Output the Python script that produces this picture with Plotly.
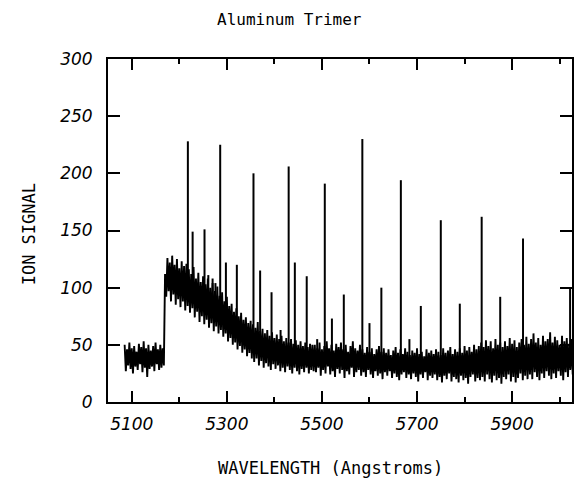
import numpy as np
import plotly.graph_objects as go

# wavelength grid of the sampled noise band (Angstroms)
lam_start, lam_end, lam_step = 5085, 6025, 5

# upper / lower edges of the noisy signal band
upper_a = [50, 46, 52, 47, 49, 44, 51, 48, 53, 47, 50, 45, 49, 52, 46, 50, 47]
lower_a = [27, 32, 29, 25, 31, 28, 33, 26, 30, 22, 29, 31, 27, 33, 28, 30, 32]
upper_b = [112, 126, 122, 128, 120, 125, 117, 123, 119, 121]
lower_b = [92, 97, 88, 94, 85, 90, 83, 88, 80, 84]
upper_c = [116, 112, 118, 108, 113, 105, 110, 103, 108, 100, 104, 97, 101, 93,
           96, 88, 92, 84, 86, 79, 82, 75, 78, 72, 74, 69, 71]
lower_c = [78, 82, 74, 79, 70, 75, 68, 72, 65, 69, 62, 66, 60, 63, 57, 60, 53,
           56, 50, 52, 46, 49, 43, 46, 40, 43, 38]
upper_d = [68, 65, 70, 62, 64, 60, 63, 58, 61, 56, 59, 55, 58, 53, 56, 52, 55,
           51, 54, 50, 53, 49, 52, 48, 51, 50]
lower_d = [35, 38, 32, 36, 30, 34, 31, 28, 33, 29, 32, 27, 30, 26, 31, 28, 25,
           30, 27, 24, 29, 26, 30, 25, 28, 27]
upper_e = [50, 47, 52, 46, 49, 53, 47, 50, 45, 51,
           48, 52, 46, 50, 44, 49, 53, 47, 45, 50,
           46, 43, 48, 44, 47, 42, 46, 49, 44, 47,
           43, 46, 41, 45, 48, 43, 46, 42, 47, 44,
           41, 45, 43, 47, 42, 44, 40, 46, 43, 45,
           42, 46, 44, 41, 47, 43, 45, 48, 42, 46,
           44, 47, 43, 49, 45, 48, 44, 50, 46, 49,
           52, 48, 54, 49, 53, 47, 55, 50, 52, 48,
           53, 49, 56, 51, 54, 48, 52, 55, 50, 57,
           51, 55, 60, 52, 56, 50, 58, 53, 55, 61,
           52, 57, 54, 50, 58, 53, 56, 51, 55]
lower_e = [26, 30, 23, 28, 25, 31, 24, 27, 22, 29,
           25, 28, 21, 27, 24, 30, 22, 26, 28, 23,
           26, 22, 28, 24, 21, 27, 23, 25, 20, 26,
           23, 27, 21, 25, 22, 19, 24, 26, 21, 24,
           20, 25, 22, 18, 24, 21, 26, 19, 23, 21,
           24, 19, 22, 17, 23, 20, 25, 18, 22, 20,
           17, 23, 19, 21, 16, 22, 24, 18, 21, 19,
           22, 18, 24, 20, 17, 23, 19, 21, 16, 22,
           20, 24, 18, 22, 17, 21, 25, 19, 23, 20,
           24, 20, 26, 22, 19, 25, 21, 27, 23, 20,
           25, 21, 27, 23, 19, 26, 22, 28, 24]

# sharp resonance lines: position, top value, local baseline
peak_wl = [5218, 5228, 5253, 5261, 5270, 5276, 5286, 5298, 5321, 5356, 5370,
           5394, 5413, 5430, 5443, 5468, 5490, 5506, 5521, 5546, 5585, 5600,
           5625, 5666, 5684, 5708, 5750, 5790, 5836, 5875, 5923, 6022]
peak_h = [228, 149, 151, 111, 108, 104, 225, 122, 120, 200, 115,
          96, 63, 206, 122, 110, 55, 191, 73, 94, 230, 69,
          100, 194, 55, 84, 159, 86, 162, 92, 143, 100]
peak_base = [98, 95, 90, 86, 84, 82, 78, 72, 64, 52, 48,
             45, 44, 43, 42, 40, 38, 38, 38, 37, 36, 35,
             35, 34, 33, 33, 33, 33, 35, 36, 37, 38]

x_ticks = [5100, 5300, 5500, 5700, 5900]
x_minor = [5200, 5400, 5600, 5800, 6000]
y_ticks = [0, 50, 100, 150, 200, 250, 300]

upper = upper_a + upper_b + upper_c + upper_d + upper_e
lower = lower_a + lower_b + lower_c + lower_d + lower_e
lam = np.arange(lam_start, lam_end + 1, lam_step)
assert len(lam) == len(upper) == len(lower)

xs = np.empty(2 * len(lam))
ys = np.empty(2 * len(lam))
xs[0::2] = lam
xs[1::2] = lam + lam_step / 2
ys[0::2] = upper
ys[1::2] = lower

px_, py_ = [], []
for w, h, b in zip(peak_wl, peak_h, peak_base):
    px_ += [w, w, None]
    py_ += [b, h, None]

fig = go.Figure()
fig.add_trace(go.Scatter(x=xs, y=ys, mode="lines",
                         line=dict(color="black", width=1.9), hoverinfo="skip"))
fig.add_trace(go.Scatter(x=px_, y=py_, mode="lines",
                         line=dict(color="black", width=2), hoverinfo="skip"))

W, H = 574, 483
ml, mr, mt, mb = 108, 0, 59, 81
pw, ph = W - ml - mr, H - mt - mb

def ann(text, x, y, size, angle=0):
    return dict(text=text, x=(x - ml) / pw, y=(H - mb - y) / ph,
                xref="paper", yref="paper", xanchor="center", yanchor="middle",
                showarrow=False, textangle=angle,
                font=dict(family="DejaVu Sans Mono", size=size, color="black"))

tickfont = dict(family="DejaVu Sans", size=17, color="black", style="italic")
fig.update_layout(
    width=W, height=H,
    margin=dict(l=ml, r=mr, t=mt, b=mb),
    paper_bgcolor="white", plot_bgcolor="white",
    showlegend=False,
    xaxis=dict(range=[5050, 6026], tickvals=x_ticks, ticks="inside", ticklen=11,
               tickwidth=2, tickcolor="black", showline=True, linecolor="black",
               linewidth=2, mirror="ticks", showgrid=False, zeroline=False,
               tickfont=tickfont, ticklabelstandoff=6,
               minor=dict(tickvals=x_minor, ticks="inside",
                          ticklen=5, tickwidth=2, tickcolor="black", showgrid=False)),
    yaxis=dict(range=[0, 300], tickvals=y_ticks, ticks="inside", ticklen=12,
               tickwidth=2, tickcolor="black", showline=True, linecolor="black",
               linewidth=2, mirror="ticks", showgrid=False, zeroline=False,
               tickfont=tickfont, ticklabelstandoff=10),
    annotations=[
        ann("Aluminum Trimer", 290, 19, 16),
        ann("ION SIGNAL", 29, 234, 17, -90),
        ann("WAVELENGTH (Angstroms)", 331, 468, 17),
    ],
)
fig.write_html(
    "out.html",
    config={"displayModeBar": False},
    post_script="document.body.style.margin='0';document.body.style.overflow='hidden';",
)
